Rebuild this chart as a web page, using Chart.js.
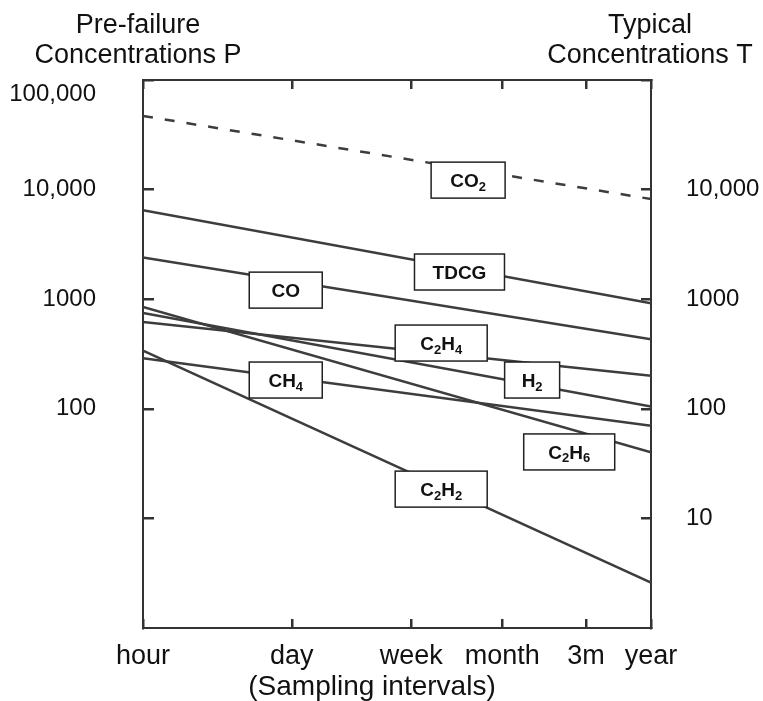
<!DOCTYPE html>
<html>
<head>
<meta charset="utf-8">
<script src="https://cdn.jsdelivr.net/npm/chart.js@4.4.0/dist/chart.umd.min.js"></script>
<style>
html, body { margin: 0; padding: 0; background: #fff; }
#wrap { width: 763px; height: 701px; }
</style>
</head>
<body>
<div id="wrap"><canvas id="mainChart" width="763" height="701"></canvas></div>
<script>
// sampling intervals along the bottom (position on the drawn axis, 0 = hour, 100 = year)
const intervalLabels = ['hour', 'day', 'week', 'month', '3m', 'year'];
const intervalPos = [0, 29.3, 52.8, 70.7, 87.2, 100];

// gas lines: concentration at "hour" (left, P) and at "year" (right, T)
const gases = ['CO_2', 'TDCG', 'CO', 'C_2H_6', 'H_2', 'C_2H_4', 'CH_4', 'C_2H_2'];
const hourValues = [47000, 6500, 2400, 850, 750, 620, 290, 340];
const yearValues = [8200, 920, 430, 40, 105, 200, 70, 2.6];

// log axis ticks
const tickValues = [10, 100, 1000, 10000, 100000];
const leftTickLabels = ['', '100', '1000', '10,000', ['', '100,000']];
const rightTickLabels = ['10', '100', '1000', '10,000', ''];

// where each gas tag sits (in chart values)
const tagX = [64.0, 62.3, 28.1, 83.9, 76.6, 58.7, 28.1, 58.7];
const tagY = [12200, 1770, 1210, 40.4, 183, 398, 183, 18.5];
const tagW = [74, 90, 73, 91, 55, 92, 73, 92];

const ink = '#333';
const lineInk = '#3d3d3d';
const FONT = '"Liberation Sans", Arial, sans-serif';

const datasets = gases.map((g, i) => ({
    label: g,
    data: [{x: intervalPos[0], y: hourValues[i]}, {x: intervalPos[intervalPos.length - 1], y: yearValues[i]}],
    borderColor: lineInk,
    borderWidth: 2.5,
    borderDash: i === 0 ? [10, 12] : [],
    pointRadius: 0,
    fill: false,
    tension: 0
}));

function setIntervalTicks(scale) {
    scale.ticks = intervalPos.map(v => ({value: v}));
}
function setLogTicks(scale) {
    scale.ticks = tickValues.map(v => ({value: v}));
}
// fixed axis sizes so the plot box lands where the picture has it
function fitBox(w, h) {
    return s => {
        if (w !== null) s.width = w;
        if (h !== null) s.height = h;
        s.paddingTop = 0; s.paddingBottom = 0;
        s.paddingLeft = 0; s.paddingRight = 0;
    };
}

// draws "CO_2" style text with small subscript digits
function drawChem(ctx, text, cx, cy) {
    const parts = [];
    for (let k = 0; k < text.length; k++) {
        if (text[k] === '_') { parts.push({t: text[k + 1], sub: true}); k++; }
        else parts.push({t: text[k], sub: false});
    }
    const big = 'bold 19px ' + FONT, small = 'bold 13px ' + FONT;
    let total = 0;
    parts.forEach(p => { ctx.font = p.sub ? small : big; p.w = ctx.measureText(p.t).width; total += p.w; });
    let x = cx - total / 2;
    ctx.textAlign = 'left';
    ctx.textBaseline = 'alphabetic';
    parts.forEach(p => {
        ctx.font = p.sub ? small : big;
        ctx.fillText(p.t, x, p.sub ? cy + 10.5 : cy + 7);
        x += p.w;
    });
}

const tagPlugin = {
    id: 'tags',
    afterDatasetsDraw(chart) {
        const ctx = chart.ctx;
        const xs = chart.scales.x, ys = chart.scales.y;
        ctx.save();
        gases.forEach((g, i) => {
            const px = xs.getPixelForValue(tagX[i]);
            const py = ys.getPixelForValue(tagY[i]);
            const w = tagW[i], h = 36;
            ctx.fillStyle = '#fff';
            ctx.fillRect(px - w / 2, py - h / 2, w, h);
            ctx.strokeStyle = '#222';
            ctx.lineWidth = 1.5;
            ctx.strokeRect(px - w / 2, py - h / 2, w, h);
            ctx.fillStyle = '#111';
            drawChem(ctx, g, px, py);
        });
        ctx.restore();
    }
};

const titlePlugin = {
    id: 'titles',
    afterDraw(chart) {
        const ctx = chart.ctx;
        ctx.save();
        ctx.fillStyle = '#111';
        ctx.font = '27px ' + FONT;
        ctx.textAlign = 'center';
        ctx.textBaseline = 'alphabetic';
        ctx.fillText('Pre-failure', 138, 33);
        ctx.fillText('Concentrations P', 138, 63);
        ctx.fillText('Typical', 650, 33);
        ctx.fillText('Concentrations T', 650, 63);
        ctx.font = '28px ' + FONT;
        ctx.fillText('(Sampling intervals)', 372, 695);
        ctx.restore();
    }
};

const axisGrid = {drawOnChartArea: false, drawTicks: true, color: ink, lineWidth: 2.5};
const axisBorder = {display: true, color: ink, width: 2};

new Chart(document.getElementById('mainChart'), {
    type: 'line',
    data: {datasets: datasets},
    options: {
        responsive: false,
        animation: false,
        layout: {padding: {top: 80, left: 0, right: 0, bottom: 0}},
        plugins: {legend: {display: false}, tooltip: {enabled: false}},
        scales: {
            x: {
                type: 'linear', position: 'bottom', min: 0, max: 100,
                afterBuildTicks: setIntervalTicks,
                afterFit: fitBox(null, 73),
                grid: Object.assign({tickLength: -9}, axisGrid),
                border: axisBorder,
                ticks: {
                    autoSkip: false, maxRotation: 0, padding: 21, color: '#111',
                    font: {family: FONT, size: 27},
                    callback: (v, i) => intervalLabels[i]
                }
            },
            x2: {
                type: 'linear', position: 'top', min: 0, max: 100,
                afterBuildTicks: setIntervalTicks,
                afterFit: fitBox(null, 0),
                grid: Object.assign({tickLength: -9}, axisGrid),
                border: axisBorder,
                ticks: {display: false}
            },
            y: {
                type: 'logarithmic', position: 'left', min: 1, max: 100000,
                afterBuildTicks: setLogTicks,
                afterFit: fitBox(143, null),
                grid: Object.assign({tickLength: -11}, axisGrid),
                border: axisBorder,
                ticks: {
                    padding: 58, color: '#111',
                    font: {family: FONT, size: 24},
                    callback: (v, i) => leftTickLabels[i]
                }
            },
            y2: {
                type: 'logarithmic', position: 'right', min: 1, max: 100000,
                afterBuildTicks: setLogTicks,
                afterFit: fitBox(112, null),
                grid: Object.assign({tickLength: -10}, axisGrid),
                border: axisBorder,
                ticks: {
                    padding: 45, color: '#111',
                    font: {family: FONT, size: 24},
                    callback: (v, i) => rightTickLabels[i]
                }
            }
        }
    },
    plugins: [tagPlugin, titlePlugin]
});
</script>
</body>
</html>
